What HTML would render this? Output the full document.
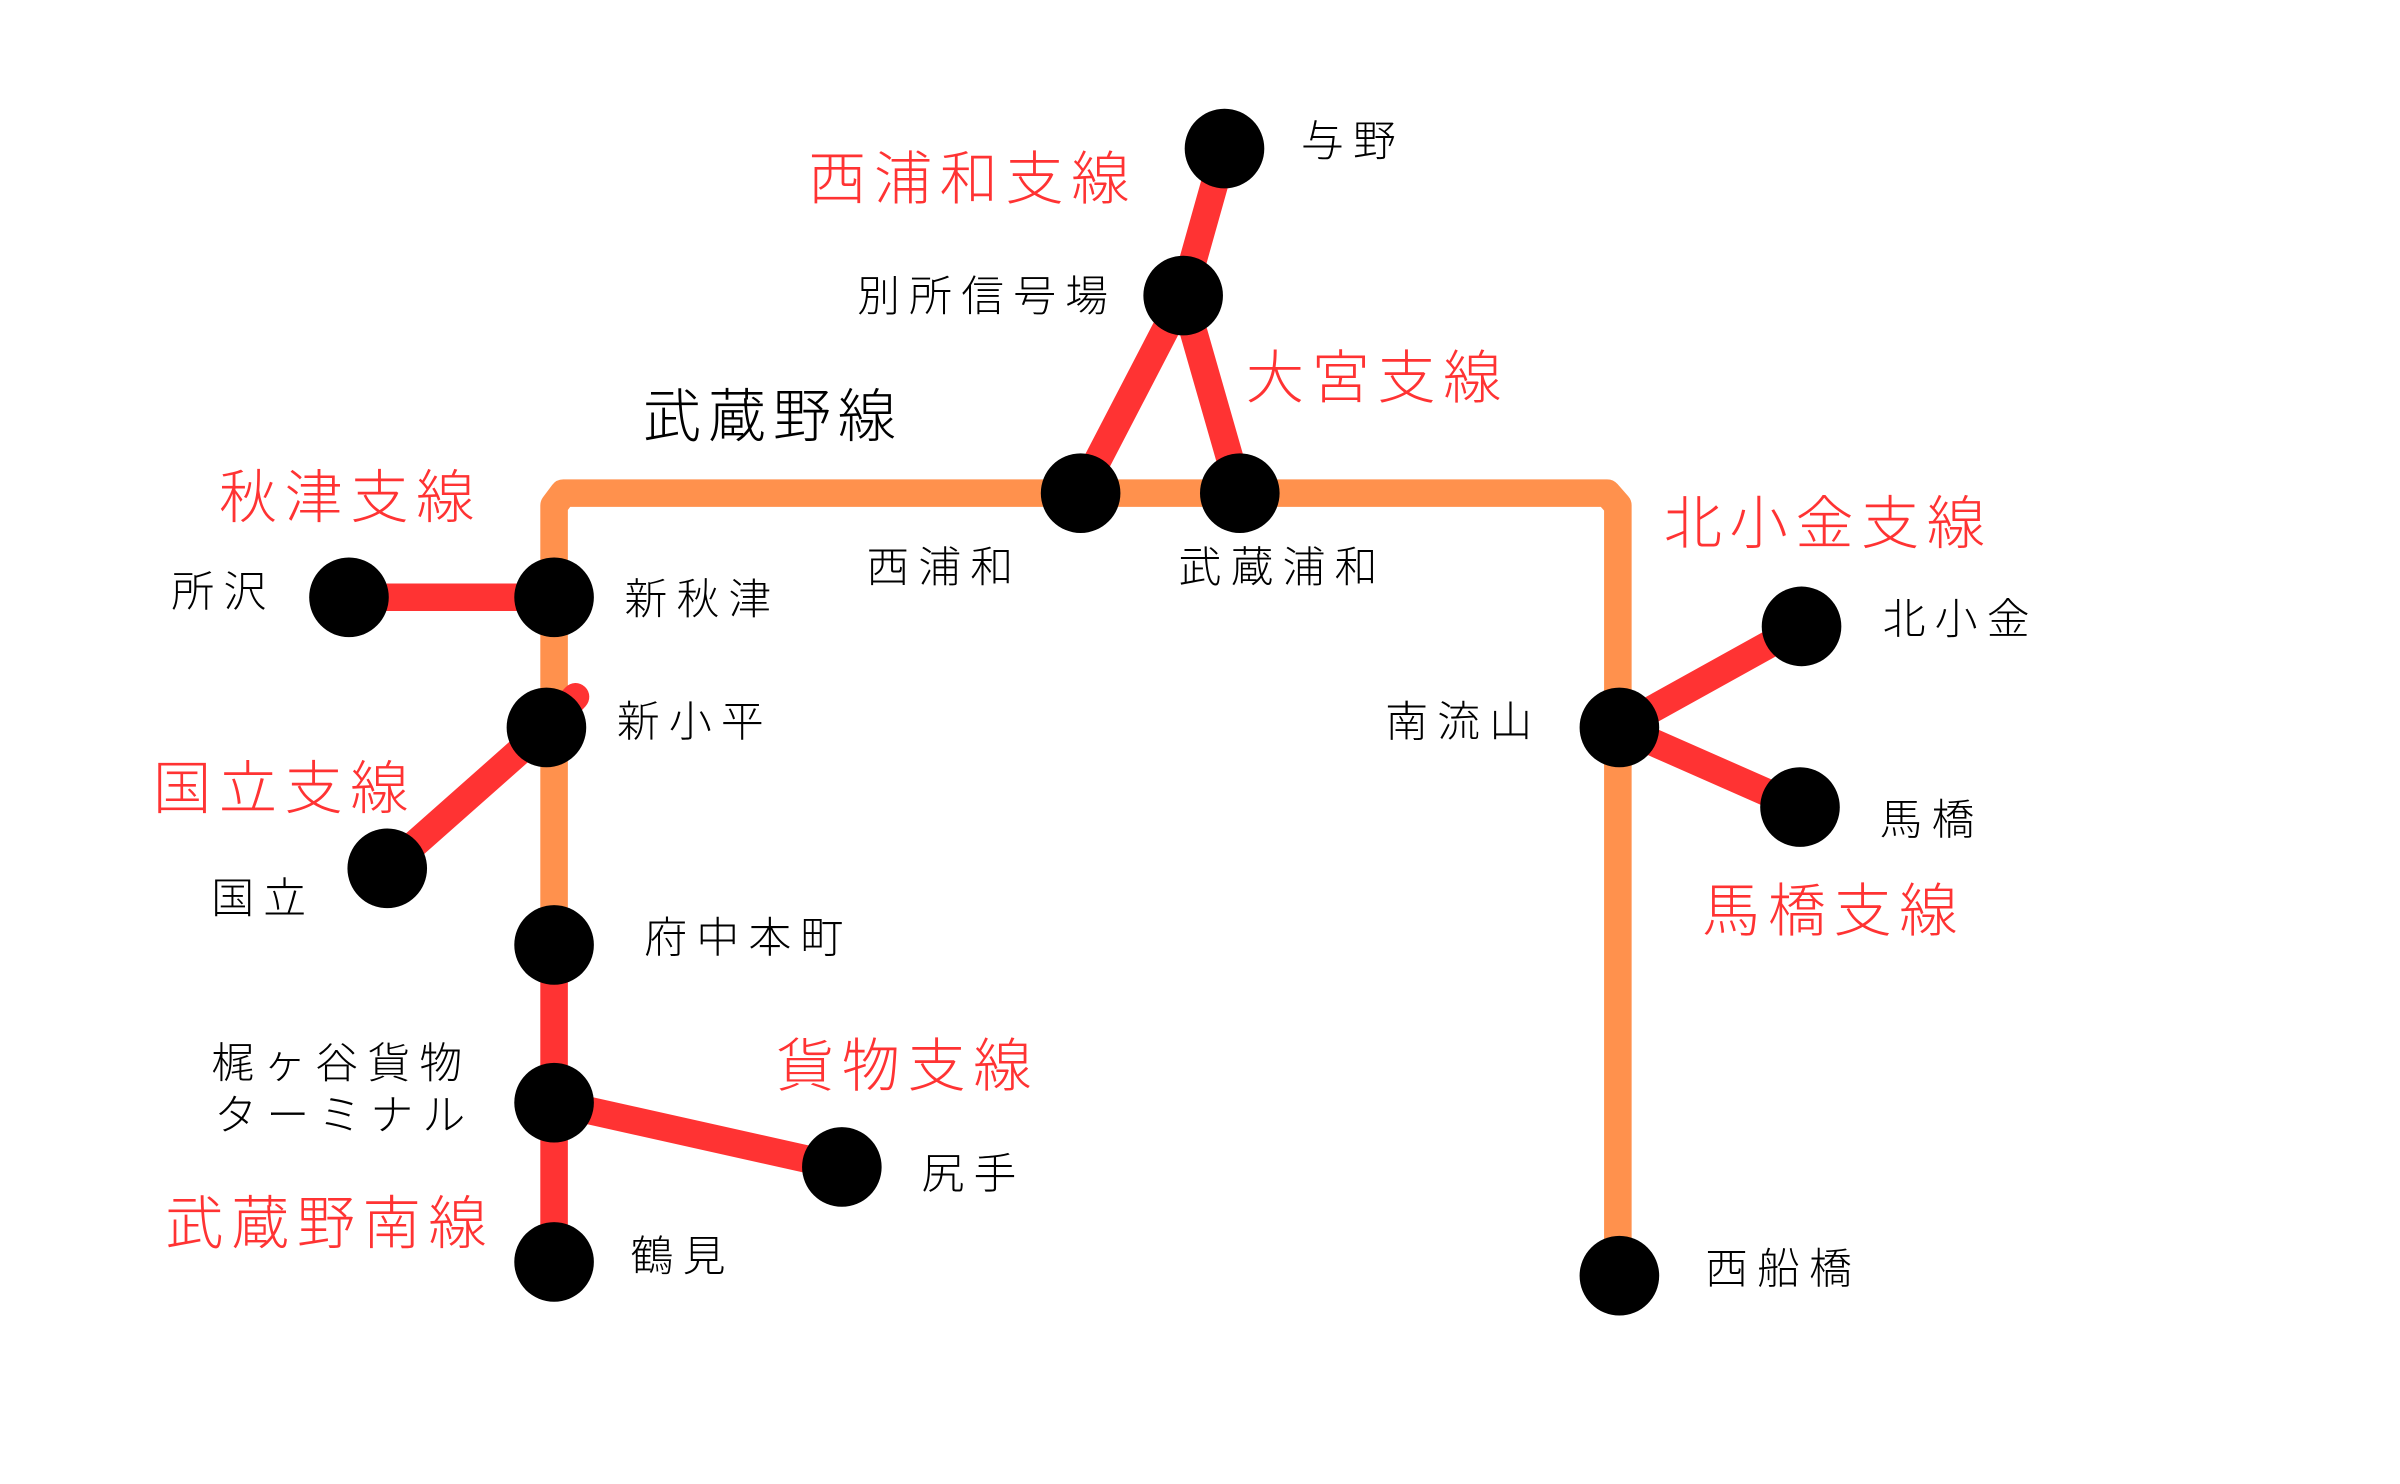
<!DOCTYPE html>
<html><head><meta charset="utf-8"><style>
html,body{margin:0;padding:0;background:#fff}
svg{display:block}
text{font-family:"Liberation Sans","Noto Sans CJK JP",sans-serif;font-weight:300}
.s{font-size:28px;fill:#000;letter-spacing:6px}
.l{font-size:38px;fill:#ff3333;letter-spacing:5px}
</style></head><body>
<svg width="2400" height="1484" viewBox="0 0 1568 969" preserveAspectRatio="none" xmlns="http://www.w3.org/2000/svg">
<rect width="1568" height="969" fill="#fff"/>
<g stroke="#ff914d" stroke-width="18" stroke-linecap="round" stroke-linejoin="round" fill="none">
<polyline points="362,617 362,330 368,322 1050,322 1057,330 1057,833"/>
</g>
<g stroke="#ff3333" stroke-width="18" stroke-linecap="round" fill="none">
<line x1="228" y1="390" x2="362" y2="390"/>
<line x1="357" y1="475" x2="253" y2="567"/>
<line x1="357" y1="475" x2="376" y2="455"/>
<polyline points="362,617 362,720 362,824"/>
<line x1="362" y1="720" x2="550" y2="762"/>
<polyline points="706,322 773,193 800,97"/>
<line x1="773" y1="193" x2="810" y2="322"/>
<line x1="1058" y1="475" x2="1177" y2="409"/>
<line x1="1058" y1="475" x2="1176" y2="527"/>
</g>
<g fill="#000">
<circle cx="800" cy="97" r="26"/><circle cx="773" cy="193" r="26"/>
<circle cx="706" cy="322" r="26"/><circle cx="810" cy="322" r="26"/>
<circle cx="228" cy="390" r="26"/><circle cx="362" cy="390" r="26"/>
<circle cx="357" cy="475" r="26"/><circle cx="253" cy="567" r="26"/>
<circle cx="362" cy="617" r="26"/><circle cx="362" cy="720" r="26"/>
<circle cx="362" cy="824" r="26"/><circle cx="550" cy="762" r="26"/>
<circle cx="1058" cy="475" r="26"/><circle cx="1177" cy="409" r="26"/>
<circle cx="1176" cy="527" r="26"/><circle cx="1058" cy="833" r="26"/>
</g>
<g class="s">
<text x="850" y="102">与野</text>
<text x="560" y="203">別所信号場</text>
<text x="566" y="380">西浦和</text>
<text x="770" y="380">武蔵浦和</text>
<text x="112" y="396">所沢</text>
<text x="408" y="401">新秋津</text>
<text x="403" y="481">新小平</text>
<text x="138" y="596">国立</text>
<text x="421" y="622">府中本町</text>
<text x="138" y="704">梶ヶ谷貨物</text>
<text x="140" y="738">ターミナル</text>
<text x="602" y="776">尻手</text>
<text x="412" y="830">鶴見</text>
<text x="905" y="481">南流山</text>
<text x="1230" y="414">北小金</text>
<text x="1228" y="545">馬橋</text>
<text x="1114" y="838">西船橋</text>
</g>
<text x="420" y="285" style="font-size:38px;fill:#000;letter-spacing:4.5px">武蔵野線</text>
<g class="l">
<text x="528" y="130">西浦和支線</text>
<text x="814" y="260">大宮支線</text>
<text x="143" y="338">秋津支線</text>
<text x="1087" y="355">北小金支線</text>
<text x="100" y="528">国立支線</text>
<text x="1112" y="608">馬橋支線</text>
<text x="507" y="709">貨物支線</text>
<text x="108" y="812">武蔵野南線</text>
</g>
</svg>
</body></html>
